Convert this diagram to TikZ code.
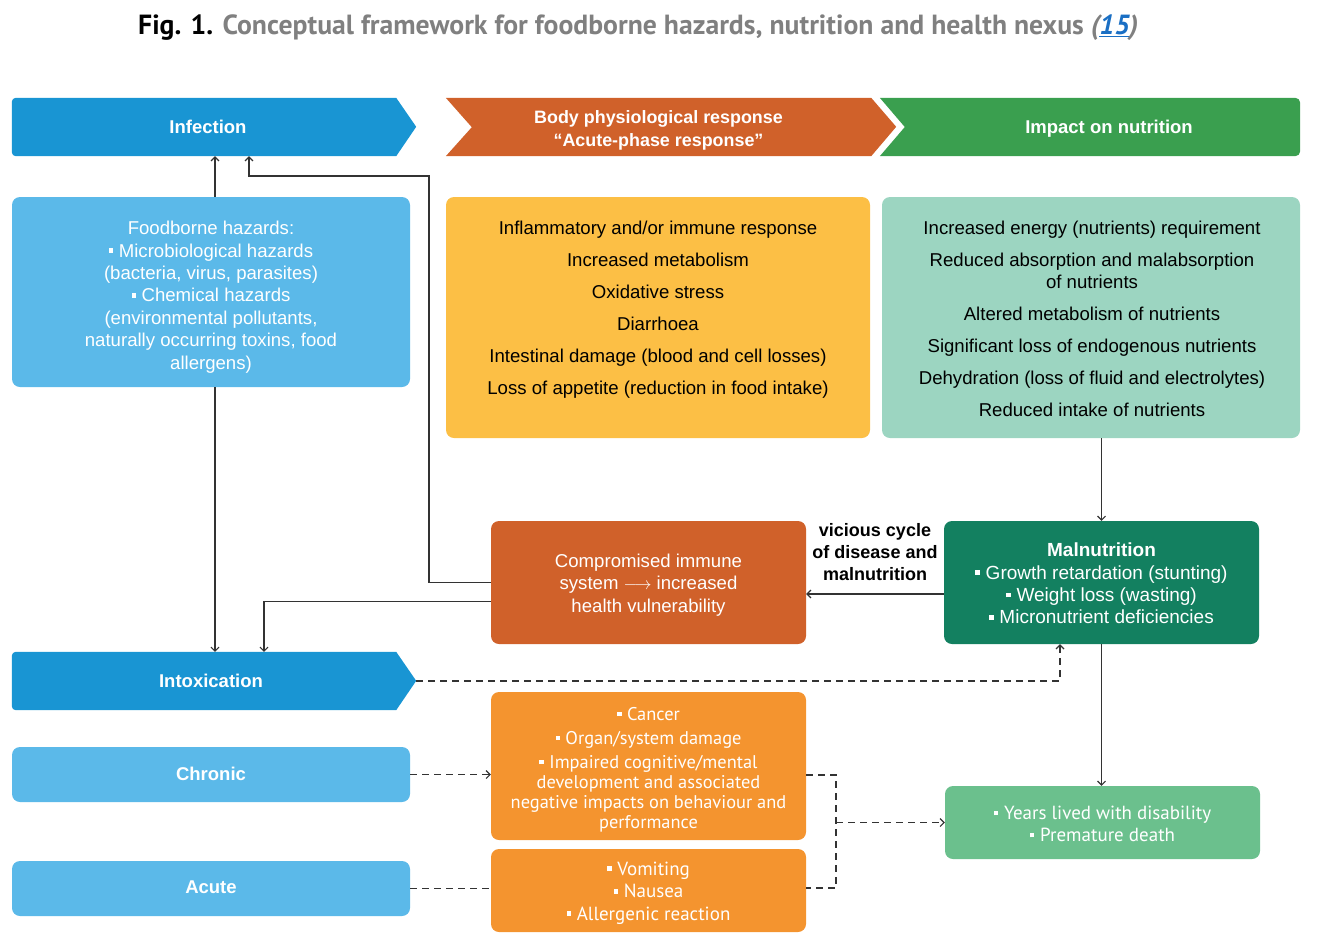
\documentclass[tikz,border=0pt]{standalone}
\usepackage{fontspec}
\setmainfont{Liberation Sans}
\newfontfamily\ptsans{PT Sans}
\usetikzlibrary{arrows.meta,backgrounds,calc}
\definecolor{infblue}{HTML}{1995D3}
\definecolor{bodyor}{HTML}{D0612A}
\definecolor{hdrgreen}{HTML}{3A9F4F}
\definecolor{lblue}{HTML}{5BB9E9}
\definecolor{yel}{HTML}{FCBF45}
\definecolor{mint}{HTML}{9CD5C1}
\definecolor{dgreen}{HTML}{138060}
\definecolor{orng}{HTML}{F4942F}
\definecolor{mgreen}{HTML}{6BC08D}
\definecolor{tgrey}{HTML}{808080}
\definecolor{lnk}{HTML}{1A6FC4}
\definecolor{lnc}{HTML}{333333}
\newcommand\bul{\raisebox{0.22em}{\rule{0.24em}{0.24em}}\hspace{0.3em}}
\begin{document}
\begin{tikzpicture}[x=1pt,y=-1pt,
  box/.style={rounded corners=8pt, inner sep=0pt},
  tx/.style={inner sep=0pt, align=center, text=white},
  hdr/.style={inner sep=0pt, align=center, text=white, font=\fontsize{18.5}{23}\selectfont\bfseries, minimum height=58pt},
  body/.style={font=\fontsize{18.6}{22.4}\selectfont},
  pt/.style={font=\ptsans\fontsize{18.4}{20}\selectfont},
  arr/.style={draw=lnc, line width=1.1pt, -{Straight Barb[length=4pt,width=8pt]}},
  dsh/.style={draw=lnc, line width=1.1pt, dash pattern=on 7pt off 5pt},
  darr/.style={dsh, -{Straight Barb[length=4pt,width=8pt]}}
]
\useasboundingbox (0,0) rectangle (1328,948);

% title
\node[anchor=west, inner sep=0pt, font=\ptsans\fontsize{27.7}{30}\selectfont\bfseries] (title) at (138,28)
  {Fig. 1. \textcolor{tgrey}{Conceptual framework for foodborne hazards, nutrition and health nexus \textit{(\textcolor{lnk}{\underline{15}})}}};

% header chevrons
\node[hdr, minimum width=384pt] (inf) at (204,127) {};
\node[hdr, minimum width=425pt] (body) at (658.5,127) {};
\node[hdr, minimum width=382pt] (imp) at (1109,127) {};
\node[hdr, minimum width=384pt] (intox) at (204,681) {};
\begin{scope}[on background layer]
\fill[infblue] (inf.north east) -- ++(20,29) -- (inf.south east) [rounded corners=4pt]-- (inf.south west) -- (inf.north west) [sharp corners]-- cycle;
\fill[infblue] (intox.north east) -- ++(20,29) -- (intox.south east) [rounded corners=4pt]-- (intox.south west) -- (intox.north west) [sharp corners]-- cycle;
\fill[bodyor] (body.north west) -- (body.north east) -- ++(25,29) -- (body.south east) -- (body.south west) -- ++(26,-29) -- cycle;
\fill[hdrgreen] ([xshift=-38pt]imp.north west) [rounded corners=5pt]-- (imp.north east) -- (imp.south east) [sharp corners]-- ([xshift=-38pt]imp.south west) -- ([xshift=-13pt]imp.west) -- cycle;
\end{scope}
\node[tx, font=\fontsize{18.5}{23}\selectfont\bfseries] (inftxt) at (208,127) {Infection};
\node[tx, font=\fontsize{18.5}{23}\selectfont\bfseries] (intoxtxt) at (211,681) {Intoxication};
\node[tx, font=\fontsize{17.9}{23}\selectfont\bfseries] (bodytxt) at (658.5,130) {Body physiological response\\``Acute-phase response''};
\node[tx, font=\fontsize{18.5}{23}\selectfont\bfseries] (imptxt) at (1109,129) {Impact on nutrition};

% boxes
\node[box, fill=lblue, minimum width=398pt, minimum height=190pt] (food) at (211,292) {};
\node[tx, body] (foodtxt) at (211,297)
  {Foodborne hazards:\\ \bul Microbiological hazards\\ (bacteria, virus, parasites)\\ \bul Chemical hazards\\ (environmental pollutants,\\ naturally occurring toxins, food\\ allergens)};
\node[box, fill=yel, minimum width=424pt, minimum height=241pt] (yelbox) at (658,317.5) {};
\node[tx, body, text=black] (yeltxt) at (658,310)
  {Inflammatory and/or immune response\\[9.6pt] Increased metabolism\\[9.6pt] Oxidative stress\\[9.6pt] Diarrhoea\\[9.6pt] Intestinal damage (blood and cell losses)\\[9.6pt] Loss of appetite (reduction in food intake)};
\node[box, fill=mint, minimum width=418pt, minimum height=241pt] (mintbox) at (1091,317.5) {};
\node[tx, body, text=black] (minttxt) at (1092,319)
  {Increased energy (nutrients) requirement\\[9.6pt] Reduced absorption and malabsorption\\ of nutrients\\[9.6pt] Altered metabolism of nutrients\\[9.6pt] Significant loss of endogenous nutrients\\[9.6pt] Dehydration (loss of fluid and electrolytes)\\[9.6pt] Reduced intake of nutrients};

\node[box, fill=bodyor, minimum width=315pt, minimum height=123pt] (comp) at (648.5,582.5) {};
\node[tx, body] (comptxt) at (648.5,585)
  {Compromised immune\\ system $\longrightarrow$ increased\\ health vulnerability};
\node[box, fill=dgreen, minimum width=315pt, minimum height=123pt] (maln) at (1101.5,582.5) {};
\node[tx, font=\fontsize{19}{22.4}\selectfont] (malntxt) at (1101.5,583.5)
  {\textbf{Malnutrition}\\ \bul Growth retardation (stunting)\\ \bul Weight loss (wasting)\\ \bul Micronutrient deficiencies};
\node[align=center, inner sep=0pt, font=\fontsize{18}{22}\selectfont\bfseries] (vic) at (875,552)
  {vicious cycle\\ of disease and\\ malnutrition};

\node[box, fill=lblue, minimum width=398pt, minimum height=55pt] (chron) at (211,774.5) {};
\node[tx, font=\fontsize{18.5}{23}\selectfont\bfseries] (chrontxt) at (211,773.5) {Chronic};
\node[box, fill=lblue, minimum width=398pt, minimum height=55pt] (acute) at (211,888.5) {};
\node[tx, font=\fontsize{18.5}{23}\selectfont\bfseries] (acutetxt) at (211,887.5) {Acute};

\node[box, fill=orng, minimum width=315pt, minimum height=148pt] (canc) at (648.5,766) {};
\node[tx, pt] (canctxt) at (648.5,769.5)
  {\bul Cancer\\[4pt] \bul Organ/system damage\\[4pt] \bul Impaired cognitive/mental\\ development and associated\\ negative impacts on behaviour and\\ performance};
\node[box, fill=orng, minimum width=315pt, minimum height=83pt] (vom) at (648.5,890.5) {};
\node[tx, font=\ptsans\fontsize{19}{22.5}\selectfont] (vomtxt) at (648.5,893)
  {\bul Vomiting\\ \bul Nausea\\ \bul Allergenic reaction};
\node[box, fill=mgreen, minimum width=315pt, minimum height=73pt] (yrs) at (1102.5,822.5) {};
\node[tx, font=\ptsans\fontsize{19}{22}\selectfont] (yrstxt) at (1102.5,824)
  {\bul Years lived with disability\\ \bul Premature death};

% connectors
\draw[arr] ([xshift=4pt]food.north) -- ([xshift=4pt]food.north |- inf.south);
\draw[arr] ([xshift=4pt]food.south) -- ([xshift=4pt]food.south |- intox.north);
\coordinate (j1) at (429,176);
\draw[arr] (comp.west) -| (j1) -| ([xshift=45pt]inf.south);
\draw[arr] ([yshift=-19pt]comp.west) -| ([xshift=60pt]intox.north);
\draw[arr] (maln.north |- mintbox.south) -- (maln.north);
\draw[arr] ([yshift=-11.5pt]maln.west) -- ([yshift=-11.5pt]comp.east);
\draw[arr] (maln.south) -- (maln.south |- yrs.north);
\coordinate (intoxtip) at ([xshift=20pt]intox.east);
\draw[darr] (intoxtip) -| ([xshift=-41.5pt]maln.south);
\draw[darr] (chron.east) -- (chron.east -| canc.west);
\draw[dsh] (acute.east) -- (acute.east -| vom.west);
\coordinate (bk) at (836,822.5);
\draw[dsh] ([yshift=-9pt]canc.east) -| (bk) |- ([yshift=2.5pt]vom.east);
\draw[darr] (bk) -- (yrs.west);
\end{tikzpicture}
\end{document}
